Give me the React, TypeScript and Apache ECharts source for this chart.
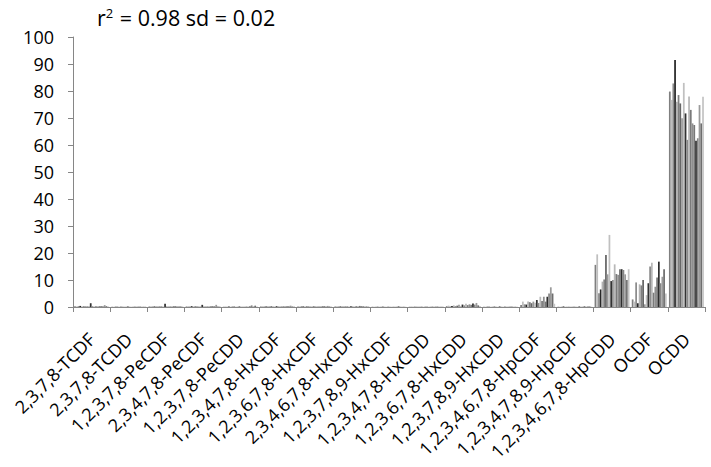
import React, { useEffect, useRef } from "react";
import * as echarts from "echarts";

const categories = [
  "2,3,7,8-TCDF",
  "2,3,7,8-TCDD",
  "1,2,3,7,8-PeCDF",
  "2,3,4,7,8-PeCDF",
  "1,2,3,7,8-PeCDD",
  "1,2,3,4,7,8-HxCDF",
  "1,2,3,6,7,8-HxCDF",
  "2,3,4,6,7,8-HxCDF",
  "1,2,3,7,8,9-HxCDF",
  "1,2,3,4,7,8-HxCDD",
  "1,2,3,6,7,8-HxCDD",
  "1,2,3,7,8,9-HxCDD",
  "1,2,3,4,6,7,8-HpCDF",
  "1,2,3,4,7,8,9-HpCDF",
  "1,2,3,4,6,7,8-HpCDD",
  "OCDF",
  "OCDD",
];

// values per congener, one per sample (20 samples)
const tcdf = [0.3, 0.2, 0.3, 0.4, 0.2, 0.3, 0.2, 0.3, 0.4, 1.4, 0.3, 0.2, 0.3, 0.2, 0.3, 0.2, 0.3, 0.7, 0.3, 0.2];
const tcdd = [0.1, 0.1, 0.2, 0.1, 0.1, 0.2, 0.1, 0.1, 0.2, 0.2, 0.1, 0.1, 0.1, 0.2, 0.1, 0.1, 0.2, 0.1, 0.1, 0.2];
const pecdf12378 = [0.2, 0.3, 0.2, 0.2, 0.3, 0.2, 0.2, 0.3, 0.2, 1.2, 0.2, 0.3, 0.2, 0.2, 0.3, 0.2, 0.2, 0.3, 0.2, 0.2];
const pecdf23478 = [0.2, 0.3, 0.2, 0.3, 0.2, 0.3, 0.2, 0.2, 0.3, 0.8, 0.2, 0.3, 0.2, 0.2, 0.3, 0.2, 0.3, 0.8, 0.2, 0.3];
const pecdd = [0.1, 0.2, 0.1, 0.2, 0.1, 0.2, 0.2, 0.1, 0.2, 0.2, 0.1, 0.2, 0.1, 0.2, 0.1, 0.2, 0.6, 0.2, 0.5, 0.2];
const hxcdf123478 = [0.2, 0.3, 0.2, 0.2, 0.3, 0.2, 0.3, 0.2, 0.2, 0.3, 0.2, 0.3, 0.2, 0.3, 0.2, 0.2, 0.3, 0.5, 0.2, 0.3];
const hxcdf123678 = [0.2, 0.2, 0.3, 0.2, 0.2, 0.3, 0.2, 0.2, 0.3, 0.2, 0.2, 0.3, 0.2, 0.2, 0.3, 0.2, 0.2, 0.4, 0.2, 0.2];
const hxcdf234678 = [0.2, 0.3, 0.2, 0.2, 0.3, 0.2, 0.2, 0.3, 0.2, 0.3, 0.2, 0.2, 0.3, 0.2, 0.4, 0.2, 0.3, 0.2, 0.2, 0.3];
const hxcdf123789 = [0.1, 0.1, 0.1, 0.1, 0.1, 0.1, 0.2, 0.1, 0.1, 0.1, 0.1, 0.1, 0.1, 0.1, 0.1, 0.2, 0.1, 0.1, 0.1, 0.1];
const hxcdd123478 = [0.1, 0.2, 0.1, 0.1, 0.2, 0.1, 0.1, 0.2, 0.1, 0.1, 0.2, 0.1, 0.1, 0.2, 0.1, 0.1, 0.2, 0.1, 0.1, 0.2];
const hxcdd123678 = [0.3, 0.5, 0.2, 0.4, 0.6, 0.3, 0.5, 0.8, 0.4, 0.9, 0.6, 1.2, 0.7, 1.0, 0.8, 1.3, 0.9, 1.5, 0.6, 0.4];
const hxcdd123789 = [0.1, 0.1, 0.2, 0.1, 0.1, 0.1, 0.2, 0.1, 0.1, 0.2, 0.1, 0.1, 0.2, 0.1, 0.1, 0.1, 0.2, 0.1, 0.1, 0.1];
const hpcdf1234678 = [0.7, 2.0, 1.0, 0.9, 2.0, 1.8, 1.4, 2.0, 1.6, 2.6, 1.5, 3.8, 2.2, 3.8, 2.0, 3.8, 5.0, 7.3, 5.0, 1.2];
const hpcdf1234789 = [0.1, 0.1, 0.1, 0.2, 0.1, 0.1, 0.1, 0.1, 0.2, 0.1, 0.1, 0.1, 0.3, 0.1, 0.1, 0.2, 0.1, 0.3, 0.2, 0.1];
const hpcdd = [15.6, 19.5, 5.1, 6.5, 9.4, 10.2, 19.3, 12.1, 26.7, 9.6, 10.0, 15.8, 12.2, 11.9, 14.0, 14.0, 13.7, 12.1, 10.0, 14.0];
const ocdf = [2.8, 2.0, 9.1, 1.4, 8.4, 8.0, 10.0, 1.0, 4.4, 8.8, 15.0, 16.4, 5.3, 7.5, 10.9, 16.8, 8.8, 11.2, 14.0, 5.0];
const ocdd = [79.8, 76.7, 82.8, 91.5, 76.0, 78.5, 75.4, 69.9, 83.0, 71.7, 61.9, 78.0, 73.0, 68.0, 67.4, 61.6, 62.5, 74.8, 68.0, 77.9];

const congenerValues = [
  tcdf, tcdd, pecdf12378, pecdf23478, pecdd,
  hxcdf123478, hxcdf123678, hxcdf234678, hxcdf123789,
  hxcdd123478, hxcdd123678, hxcdd123789,
  hpcdf1234678, hpcdf1234789, hpcdd, ocdf, ocdd,
];

const sampleColors = [
  "#7f7f7f", "#bfbfbf", "#8c8c8c", "#262626", "#b3b3b3",
  "#808080", "#666666", "#999999", "#c0c0c0", "#333333",
  "#8a8a8a", "#b8b8b8", "#7a7a7a", "#8f8f8f", "#777777",
  "#2e2e2e", "#858585", "#9a9a9a", "#6e6e6e", "#c4c4c4",
];

const yTicks = { min: 0, max: 100, interval: 10 };
const titleText = { base: "r", sup: "2", rest: " = 0.98 sd = 0.02" };

const FONT = "Open Sans";

export default function App() {
  const ref = useRef<HTMLDivElement>(null);
  useEffect(() => {
    if (!ref.current) return;
    const chart = echarts.init(ref.current, null, { renderer: "svg" });
    const nSamples = sampleColors.length;
    const series = [];
    for (let s = 0; s < nSamples; s++) {
      series.push({
        type: "bar",
        name: "S" + (s + 1),
        data: congenerValues.map((arr) => arr[s]),
        itemStyle: { color: sampleColors[s] },
        barGap: "0%",
        barCategoryGap: "6%",
      });
    }
    chart.setOption({
      animation: false,
      title: {
        text: `{a|${titleText.base}}{b|${titleText.sup}}{a|${titleText.rest}}`,
        left: 92,
        top: 1,
        textStyle: {
          fontWeight: "normal",
          rich: {
            a: { fontFamily: FONT, fontSize: 21.5, fontWeight: "normal", color: "#000" },
            b: { fontFamily: FONT, fontSize: 13, fontWeight: "normal", color: "#000", padding: [0, 1, 10, 0] },
          },
        },
      },
      grid: { left: 73, right: 6, top: 37, bottom: 160, containLabel: false },
      xAxis: {
        type: "category",
        data: categories,
        boundaryGap: true,
        axisLine: { lineStyle: { color: "#868686", width: 1 } },
        axisTick: { show: true, interval: 0, length: 5, lineStyle: { color: "#868686" } },
        axisLabel: {
          interval: 0,
          rotate: 45,
          margin: 29,
          fontFamily: FONT,
          fontSize: 18,
          color: "#000",
        },
      },
      yAxis: {
        type: "value",
        min: yTicks.min,
        max: yTicks.max,
        interval: yTicks.interval,
        axisLine: { show: true, lineStyle: { color: "#868686", width: 1 } },
        axisTick: { show: true, length: 5, lineStyle: { color: "#868686" } },
        splitLine: { show: false },
        axisLabel: { margin: 19, fontFamily: FONT, fontSize: 18, color: "#000" },
      },
      series,
    });
    return () => chart.dispose();
  }, []);
  return (
    <div
      ref={ref}
      style={{ position: "absolute", left: 0, top: 0, width: 711, height: 467, background: "#fff" }}
    />
  );
}
